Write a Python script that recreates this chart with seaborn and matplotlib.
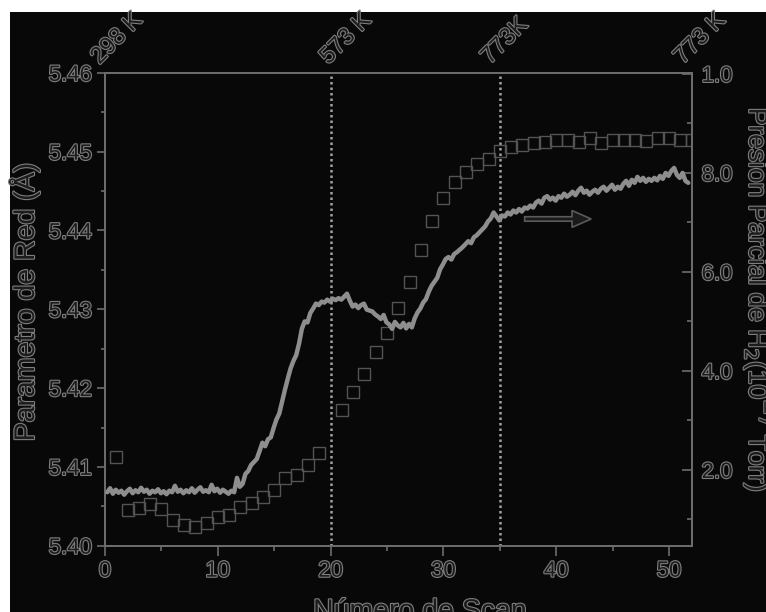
import numpy as np
import pandas as pd
import matplotlib
matplotlib.use("Agg")
import matplotlib.pyplot as plt
import matplotlib.patheffects as pe
import matplotlib.transforms as mtransforms
from matplotlib.patches import Rectangle, FancyArrow
from matplotlib.ticker import MultipleLocator, FixedLocator
import seaborn as sns

# Lattice parameter (left axis), one value per scan
scan = [1, 2, 3, 4, 5, 6, 7, 8, 9, 10, 11, 12, 13, 14, 15, 16, 17, 18, 19,
        21, 22, 23, 24, 25, 26, 27, 28, 29, 30, 31, 32, 33, 34, 35, 36, 37,
        38, 39, 40, 41, 42, 43, 44, 45, 46, 47, 48, 49, 50, 51, 52]
lattice = [5.4113, 5.4045, 5.4048, 5.4053, 5.4047, 5.4033, 5.4026, 5.4024,
           5.4029, 5.4037, 5.4039, 5.4049, 5.4054, 5.4062, 5.4071, 5.4086,
           5.4090, 5.4102, 5.4118,
           5.4172, 5.4195, 5.4218, 5.4246, 5.4270, 5.4302, 5.4335, 5.4375,
           5.4412, 5.4441, 5.4462, 5.4474, 5.4484, 5.4491, 5.4501, 5.4506,
           5.4509, 5.4511, 5.4512, 5.4515, 5.4515, 5.4512, 5.4517, 5.4511,
           5.4515, 5.4515, 5.4515, 5.4514, 5.4517, 5.4517, 5.4515, 5.4515]

# H2 partial pressure (right axis), 10^-7 Torr, sampled every quarter scan
p_scan = [0.2, 0.45, 0.7, 0.95, 1.2, 1.45, 1.7, 1.95, 2.2, 2.45, 2.7, 2.95,
          3.2, 3.45, 3.7, 3.95, 4.2, 4.45, 4.7, 4.95, 5.2, 5.45, 5.7, 5.95,
          6.2, 6.45, 6.7, 6.95, 7.2, 7.45, 7.7, 7.95, 8.2, 8.45, 8.7, 8.95,
          9.2, 9.45, 9.7, 9.95, 10.2, 10.45, 10.7, 10.95, 11.2, 11.45, 11.7,
          11.95, 12.2, 12.45, 12.7, 12.95, 13.2, 13.45, 13.7, 13.95, 14.2,
          14.45, 14.7, 14.95, 15.2, 15.45, 15.7, 15.95, 16.2, 16.45, 16.7,
          16.95, 17.2, 17.45, 17.7, 17.95, 18.2, 18.45, 18.7, 18.95, 19.2,
          19.45, 19.7, 19.95, 20.2, 20.45, 20.7, 20.95, 21.2, 21.45, 21.7,
          21.95, 22.2, 22.45, 22.7, 22.95, 23.2, 23.45, 23.7, 23.95, 24.2,
          24.45, 24.7, 24.95, 25.2, 25.45, 25.7, 25.95, 26.2, 26.45, 26.7,
          26.95, 27.2, 27.45, 27.7, 27.95, 28.2, 28.45, 28.7, 28.95, 29.2,
          29.45, 29.7, 29.95, 30.2, 30.45, 30.7, 30.95, 31.2, 31.45, 31.7,
          31.95, 32.2, 32.45, 32.7, 32.95, 33.2, 33.45, 33.7, 33.95, 34.2,
          34.45, 34.7, 34.95, 35.2, 35.45, 35.7, 35.95, 36.2, 36.45, 36.7,
          36.95, 37.2, 37.45, 37.7, 37.95, 38.2, 38.45, 38.7, 38.95, 39.2,
          39.45, 39.7, 39.95, 40.2, 40.45, 40.7, 40.95, 41.2, 41.45, 41.7,
          41.95, 42.2, 42.45, 42.7, 42.95, 43.2, 43.45, 43.7, 43.95, 44.2,
          44.45, 44.7, 44.95, 45.2, 45.45, 45.7, 45.95, 46.2, 46.45, 46.7,
          46.95, 47.2, 47.45, 47.7, 47.95, 48.2, 48.45, 48.7, 48.95, 49.2,
          49.45, 49.7, 49.95, 50.2, 50.45, 50.7, 50.95, 51.2, 51.45, 51.7]
pressure = [1.55, 1.63, 1.52, 1.60, 1.54, 1.58, 1.50, 1.57, 1.62, 1.53,
            1.59, 1.55, 1.64, 1.56, 1.60, 1.52, 1.58, 1.55, 1.61, 1.53,
            1.57, 1.51, 1.58, 1.55, 1.68, 1.56, 1.60, 1.53, 1.59, 1.55,
            1.63, 1.54, 1.60, 1.65, 1.56, 1.59, 1.55, 1.70, 1.57, 1.62,
            1.54, 1.60, 1.56, 1.52, 1.58, 1.55, 1.84, 1.66, 1.72, 1.92,
            1.98, 2.10, 2.16, 2.22, 2.38, 2.55, 2.48, 2.62, 2.66, 2.85,
            3.02, 3.14, 3.38, 3.62, 3.84, 4.05, 4.20, 4.32, 4.55, 4.85,
            5.00, 4.98, 5.17, 5.26, 5.36, 5.33, 5.40, 5.38, 5.44, 5.40,
            5.46, 5.43, 5.47, 5.44, 5.50, 5.56, 5.42, 5.30, 5.34, 5.27,
            5.33, 5.36, 5.24, 5.22, 5.20, 5.14, 5.10, 5.05, 5.13, 4.98,
            4.94, 4.85, 4.99, 4.92, 4.88, 4.97, 4.86, 4.95, 4.88, 5.06,
            5.18, 5.26, 5.38, 5.45, 5.60, 5.72, 5.80, 5.88, 6.05, 6.15,
            6.26, 6.30, 6.25, 6.36, 6.40, 6.45, 6.50, 6.56, 6.62, 6.58,
            6.70, 6.74, 6.80, 6.86, 6.92, 7.02, 7.08, 7.20, 7.12, 7.04,
            7.14, 7.12, 7.20, 7.16, 7.24, 7.20, 7.27, 7.22, 7.30, 7.28,
            7.34, 7.30, 7.40, 7.44, 7.38, 7.50, 7.53, 7.46, 7.50, 7.44,
            7.53, 7.50, 7.58, 7.52, 7.56, 7.62, 7.55, 7.64, 7.70, 7.60,
            7.64, 7.56, 7.62, 7.66, 7.60, 7.68, 7.72, 7.64, 7.70, 7.76,
            7.66, 7.72, 7.68, 7.78, 7.84, 7.74, 7.86, 7.80, 7.92, 7.84,
            7.90, 7.82, 7.88, 7.84, 7.90, 7.85, 7.94, 7.88, 8.00, 7.94,
            8.04, 8.10, 7.96, 7.90, 8.00, 7.84, 7.80]

# Temperature marks along the top edge
temp_labels = ["298 K", "573 K", "773K", "773 K"]
temp_at = [-0.5, 19.8, 34.1, 51.2]
stage_lines = [20, 35]

left_ticks = [5.40, 5.41, 5.42, 5.43, 5.44, 5.45, 5.46]
left_ticklabels = ["5.40", "5.41", "5.42", "5.43", "5.44", "5.45", "5.46"]
right_ticks = [2, 4, 6, 8, 10]
right_ticklabels = ["2.0", "4.0", "6.0", "8.0", "1.0"]
x_ticks = [0, 10, 20, 30, 40, 50]

df_lat = pd.DataFrame({"scan": scan, "lattice": lattice})
df_p = pd.DataFrame({"scan": p_scan, "pressure": pressure})

sns.set_theme(style="ticks")
plt.rcParams["font.family"] = ["Liberation Sans", "DejaVu Sans"]

BG = "#080808"
FRAME = "#6c6c6c"
TXT_FILL = "#1c1c1c"
TXT_EDGE = "#7e7e7e"
outline = [pe.withStroke(linewidth=1.6, foreground=TXT_EDGE)]

W, H = 766, 612
fig = plt.figure(figsize=(W / 100, H / 100), dpi=100, facecolor="white")
fig.patches.append(Rectangle((10 / W, 0), 1, 1 - 12 / H, transform=fig.transFigure,
                             facecolor=BG, edgecolor="none", zorder=-10))

left, right, top, bottom = 105, 691.6, 72.9, 545.7
ax = fig.add_axes([left / W, 1 - bottom / H, (right - left) / W, (bottom - top) / H])
ax.set_facecolor(BG)
ax2 = ax.twinx()

# stage boundaries
for xv in stage_lines:
    ax.axvline(xv, color="#a0a0a0", lw=1.8, linestyle=(0, (1, 1.2)), zorder=1)

# lattice parameter: hollow squares
sns.lineplot(data=df_lat, x="scan", y="lattice", ax=ax, marker="s", linestyle="none",
             markersize=8.6, markerfacecolor="none", markeredgecolor="#545454",
             markeredgewidth=1.0, zorder=3)

# H2 partial pressure: thick grey trace
sns.lineplot(data=df_p, x="scan", y="pressure", ax=ax2, color="#8e8e8e", lw=3.2,
             zorder=4)

ax2.add_patch(FancyArrow(37.2, 7.07, 5.9, 0, width=0.09, head_width=0.34,
                         head_length=1.7, length_includes_head=True,
                         facecolor="#1a1a1a", edgecolor="#5a5a5a", lw=1.2, zorder=5))

ax.set_xlim(0, 52)
ax.set_ylim(5.40, 5.46)
ax2.set_ylim(0.47, 10.02)

ax.xaxis.set_major_locator(FixedLocator(x_ticks))
ax.xaxis.set_minor_locator(MultipleLocator(5))
ax.set_yticks(left_ticks)
ax.set_yticklabels(left_ticklabels)
ax.yaxis.set_minor_locator(MultipleLocator(0.005))
ax2.set_yticks(right_ticks)
ax2.set_yticklabels(right_ticklabels)
ax2.yaxis.set_minor_locator(FixedLocator([1, 3, 5, 7, 9]))

ax.set_xlabel("")
ax.set_ylabel("")
ax2.set_ylabel("")

for a in (ax, ax2):
    for s in a.spines.values():
        s.set_color(FRAME)
        s.set_linewidth(1.3)

ax.tick_params(axis="x", which="major", direction="out", length=7.2, width=1.2,
               color=FRAME, pad=3.6, labelsize=16, labelcolor=TXT_FILL, top=False)
ax.tick_params(axis="x", which="minor", direction="out", length=3.6, width=1.2,
               color=FRAME, top=False)
ax.tick_params(axis="y", which="major", direction="out", length=5.8, width=1.2,
               color=FRAME, pad=3.6, labelsize=16, labelcolor=TXT_FILL, right=False)
ax.tick_params(axis="y", which="minor", direction="out", length=2.9, width=1.2,
               color=FRAME, right=False)
ax2.tick_params(axis="y", which="major", direction="in", length=7.2, width=1.2,
                color=FRAME, pad=7.2, labelsize=16, labelcolor=TXT_FILL)
ax2.tick_params(axis="y", which="minor", direction="in", length=3.6, width=1.2,
                color=FRAME)

for t in ax.xaxis.get_major_ticks() + ax.yaxis.get_major_ticks():
    t.label1.set_path_effects(outline)
for t in ax2.yaxis.get_major_ticks():
    t.label2.set_path_effects(outline)

# temperature labels above the frame
top_tr = mtransforms.offset_copy(
    mtransforms.blended_transform_factory(ax.transData, ax.transAxes),
    fig=fig, x=0, y=8, units="dots")
for lab, xv in zip(temp_labels, temp_at):
    ax.text(xv, 1.0, lab, transform=top_tr, rotation=45, rotation_mode="anchor",
            ha="left", va="baseline", fontsize=17, color=TXT_FILL,
            path_effects=outline, clip_on=False)

label_kw = dict(color=TXT_FILL, path_effects=outline,
                rotation_mode="anchor", ha="center", va="baseline")
fig.text(34 / W, 1 - 302 / H, "Parametro de Red (Å)", rotation=90,
         fontsize=20.5, **label_kw)
fig.text(749 / W, 1 - 300 / H, r"Presion Parcial de H$_2$(10$^{-7}$ Torr)",
         rotation=270, fontsize=19, **label_kw)
fig.text(420 / W, 1 - 619 / H, "Número de Scan", fontsize=20.5, **label_kw)

fig.savefig("out.png", dpi=100, facecolor=fig.get_facecolor())
